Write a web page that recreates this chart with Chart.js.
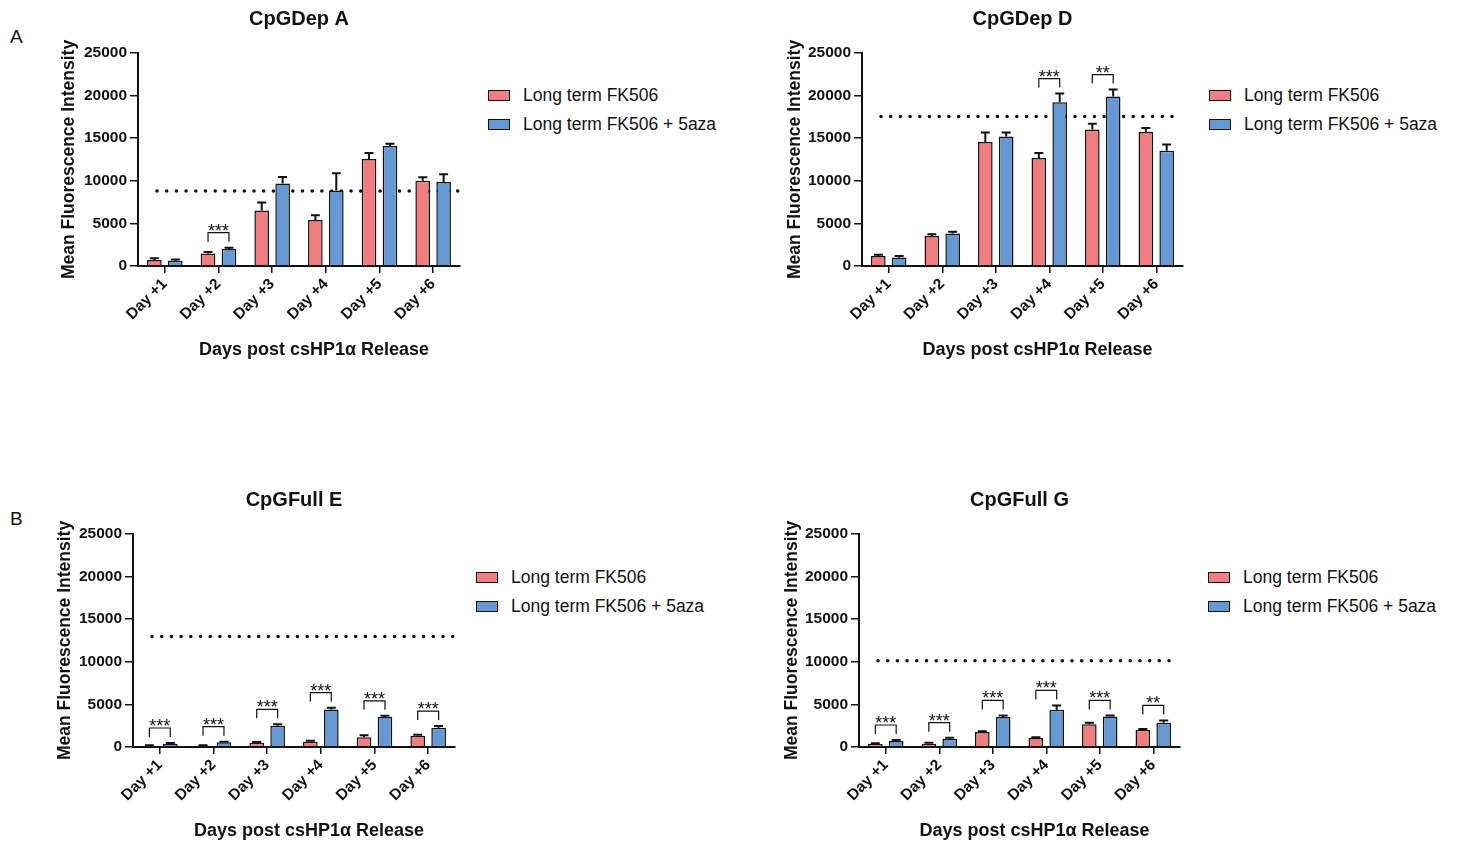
<!DOCTYPE html>
<html>
<head>
<meta charset="utf-8">
<script src="https://cdn.jsdelivr.net/npm/chart.js@4.4.0/dist/chart.umd.min.js"></script>
<style>
  body { margin: 0; width: 1459px; height: 843px; overflow: hidden; background: #fff; position: relative;
         font-family: "Liberation Sans", Arial, sans-serif; color: #111; }
  canvas { position: absolute; }
  .legend { position: absolute; font-size: 17.5px; }
  .legend div { height: 29px; display: flex; align-items: center; white-space: nowrap; }
  .swatch { width: 20px; height: 9px; border: 1.5px solid #111; margin-right: 13px; }
  .letter { position: absolute; left: 10px; font-size: 19px; line-height: 1; }
</style>
</head>
<body>
<div class="letter" style="top:27px">A</div>
<div class="letter" style="top:509px">B</div>

<canvas id="cA" width="414" height="370" style="left:56px;top:0px"></canvas>
<canvas id="cD" width="411" height="370" style="left:782px;top:0px"></canvas>
<canvas id="cE" width="413" height="370" style="left:52px;top:481px"></canvas>
<canvas id="cG" width="411" height="370" style="left:779px;top:481px"></canvas>

<div class="legend" id="lA" style="left:488px;top:81px"></div>
<div class="legend" id="lD" style="left:1209px;top:81px"></div>
<div class="legend" id="lE" style="left:476px;top:563px"></div>
<div class="legend" id="lG" style="left:1208px;top:563px"></div>

<script>
const days = ['Day +1', 'Day +2', 'Day +3', 'Day +4', 'Day +5', 'Day +6'];
const seriesNames = ['Long term FK506', 'Long term FK506 + 5aza'];
const yTicks = [0, 5000, 10000, 15000, 20000, 25000];

// CpGDep A
const depA_fk = [700, 1480, 6500, 5400, 12550, 10000];
const depA_fkErr = [200, 160, 940, 550, 700, 430];
const depA_aza = [620, 1990, 9670, 8850, 14080, 9870];
const depA_azaErr = [150, 155, 780, 2050, 270, 890];
const depA_line = 8800;
const depA_sig = ['', '***', '', '', '', ''];

// CpGDep D
const depD_fk = [1170, 3510, 14550, 12680, 16030, 15720];
const depD_fkErr = [160, 230, 1130, 580, 660, 470];
const depD_aza = [1010, 3820, 15210, 19230, 19890, 13530];
const depD_azaErr = [160, 200, 470, 1010, 820, 740];
const depD_line = 17550;
const depD_sig = ['', '', '', '***', '**', ''];

// CpGFull E
const fullE_fk = [150, 150, 510, 620, 1130, 1320];
const fullE_fkErr = [60, 60, 80, 120, 240, 120];
const fullE_aza = [390, 550, 2500, 4410, 3510, 2270];
const fullE_azaErr = [80, 80, 160, 200, 150, 190];
const fullE_line = 12970;
const fullE_sig = ['***', '***', '***', '***', '***', '***'];

// CpGFull G
const fullG_fk = [350, 390, 1760, 1050, 2660, 2030];
const fullG_fkErr = [80, 120, 80, 80, 190, 80];
const fullG_aza = [700, 980, 3515, 4375, 3590, 2850];
const fullG_azaErr = [120, 110, 195, 505, 120, 270];
const fullG_line = 10120;
const fullG_sig = ['***', '***', '***', '***', '***', '**'];

const RED = '#F07E80';
const BLUE = '#6699D4';
const INK = '#111';
const FONT = '"Liberation Sans", Arial, sans-serif';
Chart.defaults.font.family = FONT;
Chart.defaults.color = INK;

const panels = [
  { id: 'cA', legend: 'lA', title: 'CpGDep A', fk: depA_fk, fkErr: depA_fkErr, aza: depA_aza, azaErr: depA_azaErr, line: depA_line, sig: depA_sig, axisW: 82 },
  { id: 'cD', legend: 'lD', title: 'CpGDep D', fk: depD_fk, fkErr: depD_fkErr, aza: depD_aza, azaErr: depD_azaErr, line: depD_line, sig: depD_sig, axisW: 80 },
  { id: 'cE', legend: 'lE', title: 'CpGFull E', fk: fullE_fk, fkErr: fullE_fkErr, aza: fullE_aza, azaErr: fullE_azaErr, line: fullE_line, sig: fullE_sig, axisW: 81 },
  { id: 'cG', legend: 'lG', title: 'CpGFull G', fk: fullG_fk, fkErr: fullG_fkErr, aza: fullG_aza, azaErr: fullG_azaErr, line: fullG_line, sig: fullG_sig, axisW: 80 },
];

// dotted reference line, error bars, significance brackets, x axis title
const extras = {
  id: 'extras',
  beforeDatasetsDraw(chart, args, opts) {
    const { ctx, chartArea: a, scales: { y } } = chart;
    const yy = y.getPixelForValue(opts.line);
    ctx.save();
    ctx.strokeStyle = INK;
    ctx.lineWidth = 3.6;
    ctx.lineCap = 'round';
    ctx.setLineDash([0, 9.7]);
    ctx.beginPath();
    ctx.moveTo(a.left + 19, yy);
    ctx.lineTo(a.right - 2, yy);
    ctx.stroke();
    ctx.restore();
  },
  afterDatasetsDraw(chart, args, opts) {
    const { ctx, chartArea: a, scales: { y } } = chart;
    ctx.save();
    ctx.strokeStyle = INK;
    ctx.fillStyle = INK;
    const tops = [];
    chart.data.datasets.forEach((ds, i) => {
      const meta = chart.getDatasetMeta(i);
      tops[i] = [];
      meta.data.forEach((bar, j) => {
        const top = y.getPixelForValue(ds.data[j] + ds.err[j]);
        tops[i][j] = top;
        ctx.lineWidth = 2;
        ctx.beginPath();
        ctx.moveTo(bar.x, bar.y);
        ctx.lineTo(bar.x, top);
        ctx.moveTo(bar.x - 4.5, top);
        ctx.lineTo(bar.x + 4.5, top);
        ctx.stroke();
      });
    });
    const m0 = chart.getDatasetMeta(0), m1 = chart.getDatasetMeta(1);
    opts.sig.forEach((s, j) => {
      if (!s) return;
      const x0 = m0.data[j].x, x1 = m1.data[j].x;
      const by = Math.min(tops[0][j], tops[1][j]) - 15;
      ctx.lineWidth = 1.2;
      ctx.beginPath();
      ctx.moveTo(x0, by + 9);
      ctx.lineTo(x0, by);
      ctx.lineTo(x1, by);
      ctx.lineTo(x1, by + 9);
      ctx.stroke();
      ctx.font = '18px ' + FONT;
      ctx.textAlign = 'center';
      ctx.textBaseline = 'alphabetic';
      ctx.fillText(s, (x0 + x1) / 2, by + 4);
    });
    ctx.font = 'bold 18px ' + FONT;
    ctx.textAlign = 'center';
    ctx.textBaseline = 'middle';
    ctx.fillText(opts.xTitle, (a.left + a.right) / 2 + 15, 350);
    ctx.restore();
  }
};

panels.forEach(p => {
  new Chart(document.getElementById(p.id), {
    type: 'bar',
    data: {
      labels: days,
      datasets: [
        { label: seriesNames[0], data: p.fk, err: p.fkErr, backgroundColor: RED, borderColor: INK, borderWidth: 1.5 },
        { label: seriesNames[1], data: p.aza, err: p.azaErr, backgroundColor: BLUE, borderColor: INK, borderWidth: 1.5 },
      ]
    },
    options: {
      responsive: false,
      animation: false,
      events: [],
      categoryPercentage: 0.78,
      barPercentage: 0.7,
      layout: { padding: { left: 0, right: 10, top: 0, bottom: 0 } },
      plugins: {
        legend: { display: false },
        tooltip: { enabled: false },
        title: {
          display: true, fullSize: false, text: p.title, color: INK,
          font: { size: 20, weight: 'bold' },
          padding: { top: 7, bottom: 22 }
        },
        extras: { line: p.line, sig: p.sig, xTitle: 'Days post csHP1α Release' }
      },
      scales: {
        x: {
          grid: { offset: false, drawOnChartArea: false, tickLength: 7, color: INK, lineWidth: 1.5 },
          border: { color: INK, width: 2 },
          ticks: { font: { size: 15.5, weight: 'bold' }, color: INK, maxRotation: 45, minRotation: 45, autoSkip: false, padding: 2 },
          afterFit(s) { s.height = 104; }
        },
        y: {
          min: yTicks[0], max: yTicks[yTicks.length - 1],
          afterBuildTicks(s) { s.ticks = yTicks.map(v => ({ value: v })); },
          ticks: { font: { size: 15.5, weight: 'bold' }, color: INK, padding: 3, callback: v => String(v) },
          grid: { drawOnChartArea: false, tickLength: 8, color: INK, lineWidth: 1.5 },
          border: { color: INK, width: 2 },
          title: {
            display: true, text: 'Mean Fluorescence Intensity', color: INK,
            font: { size: 17.5, weight: 'bold' }, padding: { top: 3, bottom: 4 }
          },
          afterFit(s) { s.width = p.axisW; }
        }
      }
    },
    plugins: [extras]
  });

  const lg = document.getElementById(p.legend);
  [RED, BLUE].forEach((c, i) => {
    const row = document.createElement('div');
    const sw = document.createElement('span');
    sw.className = 'swatch';
    sw.style.background = c;
    row.appendChild(sw);
    row.appendChild(document.createTextNode(seriesNames[i]));
    lg.appendChild(row);
  });
});
</script>
</body>
</html>
